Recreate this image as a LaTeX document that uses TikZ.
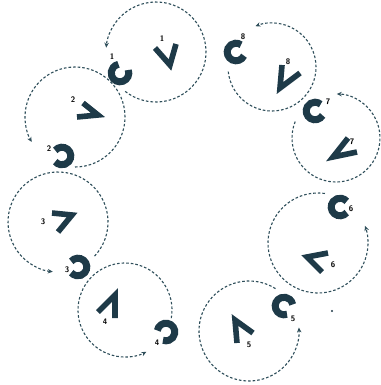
\documentclass[tikz,border=0pt]{standalone}
\usetikzlibrary{arrows.meta}
\definecolor{ink}{HTML}{1E3A48}
\definecolor{dashc}{HTML}{2E4E5A}
\tikzset{
  loopline/.style={draw=dashc, line width=1.1pt, dash pattern=on 2.6pt off 2pt, -{Stealth[length=5pt,width=4.5pt]}},
  chev/.style={draw=ink, line width=5.6pt, miter limit=10, line join=miter},
  cshape/.style={draw=ink, line width=7pt},
  lab/.style={font=\sffamily\bfseries\fontsize{8}{8}\selectfont, inner sep=0pt, text=black}
}
\begin{document}
\begin{tikzpicture}[x=1pt,y=-1pt]
\useasboundingbox[fill=white] (0,0) rectangle (380,385);
% circle centres
\coordinate (o1) at (156,52);
\coordinate (o2) at (75,117);
\coordinate (o3) at (58,222);
\coordinate (o4) at (125,310);
\coordinate (o5) at (249,331);
\coordinate (o6) at (318,243);
\coordinate (o7) at (336,138);
\coordinate (o8) at (272,67);
% dashed circular arrows
\draw[loopline] (o1) ++(-232:50) arc[start angle=-232, end angle=-535, radius=50];
\draw[loopline] (o2) ++(-270:50) arc[start angle=-270, end angle=-570, radius=50];
\draw[loopline] (o3) ++(-317:50) arc[start angle=-317, end angle=-624, radius=50];
\draw[loopline] (o4) ++(-350:47) arc[start angle=-350, end angle=-657, radius=47];
\draw[loopline] (o5) ++(-58:50) arc[start angle=-58, end angle=-364, radius=50];
\draw[loopline] (o6) ++(-82:50) arc[start angle=-82, end angle=-380, radius=50];
\draw[loopline] (o7) ++(-158:44) arc[start angle=-158, end angle=-449, radius=44];
\draw[loopline] (o8) ++(-186:44) arc[start angle=-186, end angle=-472, radius=44];
% C shapes
\coordinate (c1) at (120,73);
\coordinate (c2) at (62,156);
\coordinate (c3) at (78,267);
\coordinate (c4) at (166,332);
\coordinate (c5) at (284,306);
\coordinate (c6) at (340,207);
\coordinate (c7) at (315,111);
\coordinate (c8) at (236,52);
\draw[cshape] (c1) ++(-20:8.8) arc[start angle=-20, end angle=260, radius=8.8];
\draw[cshape] (c2) ++(220:8.8) arc[start angle=220, end angle=500, radius=8.8];
\draw[cshape] (c3) ++(220:8.8) arc[start angle=220, end angle=500, radius=8.8];
\draw[cshape] (c4) ++(190:8.8) arc[start angle=190, end angle=470, radius=8.8];
\draw[cshape] (c5) ++(70:8.8) arc[start angle=70, end angle=350, radius=8.8];
\draw[cshape] (c6) ++(40:8.8) arc[start angle=40, end angle=320, radius=8.8];
\draw[cshape] (c7) ++(30:8.8) arc[start angle=30, end angle=310, radius=8.8];
\draw[cshape] (c8) ++(25:8.8) arc[start angle=25, end angle=305, radius=8.8];
% chevrons
\draw[chev] (155,48) -- (170,65) -- (176,44);
\draw[chev] (83,103) -- (98,115) -- (77,117);
\draw[chev] (52,213) -- (72,215) -- (58,232);
\draw[chev] (98,312) -- (115,295) -- (115,318);
\draw[chev] (237,343) -- (235,320) -- (253,333);
\draw[chev] (328,253) -- (307,257) -- (322,272);
\draw[chev] (348,138) -- (333,157) -- (357,152);
\draw[chev] (282,65) -- (280,88) -- (300,73);
% labels of chevrons
\node[lab] (v1) at (162,39) {1};
\node[lab] (v2) at (73,100) {2};
\node[lab] (v3) at (43,222) {3};
\node[lab] (v4) at (105,322) {4};
\node[lab] (v5) at (249,345) {5};
\node[lab] (v6) at (333,265) {6};
\node[lab] (v7) at (352,142) {7};
\node[lab] (v8) at (288,62) {8};
% labels of C shapes
\node[lab] (l1) at (112,57) {1};
\node[lab] (l2) at (49,149) {2};
\node[lab] (l3) at (67,270) {3};
\node[lab] (l4) at (157,343) {4};
\node[lab] (l5) at (293,319) {5};
\node[lab] (l6) at (351,209) {6};
\node[lab] (l7) at (328,102) {7};
\node[lab] (l8) at (243,37) {8};
% stray dot
\fill[ink] (332,311) circle[radius=1.2];
\end{tikzpicture}
\end{document}
